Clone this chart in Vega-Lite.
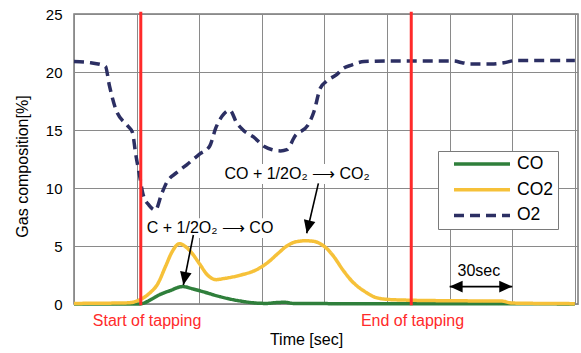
{
  "$schema": "https://vega.github.io/schema/vega-lite/v6.json",
  "width": 504,
  "height": 290,
  "autosize": {"type": "none"},
  "padding": {"left": 74, "top": 14, "right": 3, "bottom": 49},
  "background": "white",
  "config": {
    "font": "Liberation Sans",
    "view": {"stroke": "#7a7a7a", "strokeWidth": 1.5},
    "axis": {"gridColor": "#8a8a8a", "gridWidth": 1, "gridOpacity": 1, "ticks": false, "domain": false, "titleFontWeight": "normal", "titleColor": "black", "labelColor": "black", "titleFontSize": 16}
  },
  "datasets": {
    "gas": [
      {"t": 0, "gas": "CO", "v": 0}, {"t": 31, "gas": "CO", "v": 0}, {"t": 33, "gas": "CO", "v": 0.05}, {"t": 37, "gas": "CO", "v": 0.4},
      {"t": 41, "gas": "CO", "v": 0.8}, {"t": 46, "gas": "CO", "v": 1.15}, {"t": 52, "gas": "CO", "v": 1.5}, {"t": 57, "gas": "CO", "v": 1.3},
      {"t": 62, "gas": "CO", "v": 1.05}, {"t": 70, "gas": "CO", "v": 0.63}, {"t": 76, "gas": "CO", "v": 0.38}, {"t": 80, "gas": "CO", "v": 0.25},
      {"t": 86, "gas": "CO", "v": 0.1}, {"t": 92, "gas": "CO", "v": 0.05}, {"t": 97, "gas": "CO", "v": 0.12}, {"t": 101, "gas": "CO", "v": 0.15},
      {"t": 105, "gas": "CO", "v": 0.05}, {"t": 130, "gas": "CO", "v": 0.03}, {"t": 205, "gas": "CO", "v": 0.03}, {"t": 240, "gas": "CO", "v": 0},

      {"t": 0, "gas": "CO2", "v": 0.05}, {"t": 26, "gas": "CO2", "v": 0.1}, {"t": 30, "gas": "CO2", "v": 0.25}, {"t": 33, "gas": "CO2", "v": 0.5},
      {"t": 36, "gas": "CO2", "v": 0.9}, {"t": 40, "gas": "CO2", "v": 1.7}, {"t": 44, "gas": "CO2", "v": 3.3}, {"t": 47, "gas": "CO2", "v": 4.5},
      {"t": 50.5, "gas": "CO2", "v": 5.2}, {"t": 53, "gas": "CO2", "v": 5.0}, {"t": 56, "gas": "CO2", "v": 4.5}, {"t": 60, "gas": "CO2", "v": 3.5},
      {"t": 64, "gas": "CO2", "v": 2.5}, {"t": 68, "gas": "CO2", "v": 2.1}, {"t": 72, "gas": "CO2", "v": 2.2}, {"t": 80, "gas": "CO2", "v": 2.5},
      {"t": 88, "gas": "CO2", "v": 3.0}, {"t": 93, "gas": "CO2", "v": 3.6}, {"t": 98, "gas": "CO2", "v": 4.4}, {"t": 102, "gas": "CO2", "v": 5.0},
      {"t": 106, "gas": "CO2", "v": 5.35}, {"t": 111, "gas": "CO2", "v": 5.45}, {"t": 115, "gas": "CO2", "v": 5.4}, {"t": 118, "gas": "CO2", "v": 5.2},
      {"t": 121, "gas": "CO2", "v": 4.8}, {"t": 124, "gas": "CO2", "v": 4.2}, {"t": 129, "gas": "CO2", "v": 2.9}, {"t": 133, "gas": "CO2", "v": 2.0},
      {"t": 136, "gas": "CO2", "v": 1.5}, {"t": 140, "gas": "CO2", "v": 1.0}, {"t": 144, "gas": "CO2", "v": 0.6}, {"t": 150, "gas": "CO2", "v": 0.4},
      {"t": 160, "gas": "CO2", "v": 0.33}, {"t": 180, "gas": "CO2", "v": 0.28}, {"t": 205, "gas": "CO2", "v": 0.25}, {"t": 210, "gas": "CO2", "v": 0.08},
      {"t": 240, "gas": "CO2", "v": 0.03},

      {"t": 0, "gas": "O2", "v": 20.9}, {"t": 8, "gas": "O2", "v": 20.8}, {"t": 15, "gas": "O2", "v": 20.5}, {"t": 17, "gas": "O2", "v": 18.8},
      {"t": 20, "gas": "O2", "v": 16.8}, {"t": 26, "gas": "O2", "v": 15.3}, {"t": 28, "gas": "O2", "v": 14.8}, {"t": 29.5, "gas": "O2", "v": 13.0},
      {"t": 31.5, "gas": "O2", "v": 11.0}, {"t": 33, "gas": "O2", "v": 9.5}, {"t": 36, "gas": "O2", "v": 8.5}, {"t": 39, "gas": "O2", "v": 8.1},
      {"t": 42, "gas": "O2", "v": 9.5}, {"t": 44.5, "gas": "O2", "v": 10.5}, {"t": 49, "gas": "O2", "v": 11.3}, {"t": 54, "gas": "O2", "v": 12.0},
      {"t": 60, "gas": "O2", "v": 12.9}, {"t": 65, "gas": "O2", "v": 13.6}, {"t": 68, "gas": "O2", "v": 15.2}, {"t": 71, "gas": "O2", "v": 16.2},
      {"t": 74.7, "gas": "O2", "v": 16.7}, {"t": 78, "gas": "O2", "v": 15.6}, {"t": 81, "gas": "O2", "v": 15.0}, {"t": 86, "gas": "O2", "v": 14.4},
      {"t": 91, "gas": "O2", "v": 13.6}, {"t": 95, "gas": "O2", "v": 13.3}, {"t": 99, "gas": "O2", "v": 13.2}, {"t": 102, "gas": "O2", "v": 13.3},
      {"t": 106, "gas": "O2", "v": 14.5}, {"t": 112, "gas": "O2", "v": 15.4}, {"t": 115, "gas": "O2", "v": 16.6}, {"t": 118, "gas": "O2", "v": 18.6},
      {"t": 121, "gas": "O2", "v": 19.2}, {"t": 126, "gas": "O2", "v": 19.8}, {"t": 129, "gas": "O2", "v": 20.3}, {"t": 133, "gas": "O2", "v": 20.6},
      {"t": 139, "gas": "O2", "v": 20.9}, {"t": 150, "gas": "O2", "v": 20.95}, {"t": 182, "gas": "O2", "v": 20.95}, {"t": 186, "gas": "O2", "v": 20.8},
      {"t": 190, "gas": "O2", "v": 20.7}, {"t": 200, "gas": "O2", "v": 20.7}, {"t": 206, "gas": "O2", "v": 20.8}, {"t": 212, "gas": "O2", "v": 21.0},
      {"t": 240, "gas": "O2", "v": 21.0}
    ],
    "events": [
      {"t": 32, "v0": -0.1, "v1": 25.2, "label": "Start of tapping", "tl": 35, "vl": -1.47},
      {"t": 161.6, "v0": -0.1, "v1": 25.2, "label": "End of tapping", "tl": 162.2, "vl": -1.47}
    ],
    "masks": [
      {"t0": 72.8, "t1": 141.8, "v0": 10.34, "v1": 12.07},
      {"t0": 35.5, "t1": 94.9, "v0": 5.7, "v1": 7.4}
    ],
    "notes": [
      {"t": 106.9, "v": 11.2, "text": "CO + 1/2O₂ ⟶ CO₂"},
      {"t": 65.2, "v": 6.55, "text": "C + 1/2O₂ ⟶ CO"},
      {"t": 194, "v": 2.85, "text": "30sec"}
    ],
    "arrows": [
      {"t0": 57.2, "v0": 5.95, "t1": 52.4, "v1": 1.64},
      {"t0": 117.1, "v0": 10.4, "t1": 111.5, "v1": 6.1},
      {"t0": 180, "v0": 1.5, "t1": 210, "v1": 1.5}
    ]
  },
  "layer": [
    {
      "data": {"name": "masks"},
      "mark": {"type": "rect", "color": "white"},
      "encoding": {
        "x": {"field": "t0", "type": "quantitative", "scale": {"domain": [0, 241.5], "nice": false, "zero": false},
              "axis": {"values": [0, 30, 60, 90, 120, 150, 180, 210, 240], "labels": false, "title": "Time [sec]", "titleX": 232, "titleY": 35, "titleBaseline": "middle"}},
        "x2": {"field": "t1"},
        "y": {"field": "v0", "type": "quantitative", "scale": {"domain": [0, 25], "nice": false, "zero": false},
              "axis": {"values": [0, 5, 10, 15, 20, 25], "labelFontSize": 15, "labelPadding": 12, "title": "Gas composition[%]", "titleX": -52, "titleY": 152, "titleBaseline": "middle"}},
        "y2": {"field": "v1"}
      }
    },
    {
      "data": {"name": "gas"},
      "mark": {"type": "line", "interpolate": "monotone"},
      "encoding": {
        "x": {"field": "t", "type": "quantitative", "scale": {"domain": [0, 241.5], "nice": false, "zero": false}},
        "y": {"field": "v", "type": "quantitative", "scale": {"domain": [0, 25], "nice": false, "zero": false}},
        "color": {"field": "gas", "type": "nominal", "scale": {"domain": ["CO", "CO2", "O2"], "range": ["#2F7F3B", "#F6C139", "#2C2F63"]},
                  "legend": {"title": null, "orient": "none", "legendX": 364, "legendY": 137, "symbolType": "stroke", "symbolSize": 3136, "symbolStrokeWidth": 4,
                             "labelFontSize": 17.5, "labelColor": "black", "labelOffset": 5, "padding": 4.5, "symbolOffset": 9.5, "rowPadding": 7.7, "clipHeight": 17,
                             "strokeColor": "#7a7a7a", "fillColor": "white"}},
        "strokeDash": {"field": "gas", "type": "nominal", "scale": {"domain": ["CO", "CO2", "O2"], "range": [[1, 0], [1, 0], [10, 6]]},
                       "legend": {"title": null}},
        "strokeWidth": {"field": "gas", "type": "nominal", "scale": {"domain": ["CO", "CO2", "O2"], "range": [3.5, 3.5, 4.5]}, "legend": null}
      }
    },
    {
      "data": {"name": "events"},
      "mark": {"type": "rule", "color": "#FF2A2A", "strokeWidth": 3},
      "encoding": {
        "x": {"field": "t", "type": "quantitative", "scale": {"domain": [0, 241.5], "nice": false, "zero": false}},
        "y": {"field": "v0", "type": "quantitative", "scale": {"domain": [0, 25], "nice": false, "zero": false}},
        "y2": {"field": "v1"}
      }
    },
    {
      "data": {"name": "events"},
      "mark": {"type": "text", "color": "#FF2A2A", "fontSize": 16, "baseline": "middle", "align": "center"},
      "encoding": {
        "x": {"field": "tl", "type": "quantitative", "scale": {"domain": [0, 241.5], "nice": false, "zero": false}},
        "y": {"field": "vl", "type": "quantitative", "scale": {"domain": [0, 25], "nice": false, "zero": false}},
        "text": {"field": "label"}
      }
    },
    {
      "data": {"name": "arrows"},
      "mark": {"type": "rule", "color": "black", "strokeWidth": 1.6},
      "encoding": {
        "x": {"field": "t0", "type": "quantitative", "scale": {"domain": [0, 241.5], "nice": false, "zero": false}},
        "y": {"field": "v0", "type": "quantitative", "scale": {"domain": [0, 25], "nice": false, "zero": false}},
        "x2": {"field": "t1"},
        "y2": {"field": "v1"}
      }
    },
    {
      "data": {"values": [{"t": 52.4, "v": 1.64}]},
      "mark": {"type": "point", "shape": "M0,0L-0.45,-1L0.45,-1Z", "filled": true, "color": "black", "opacity": 1, "size": 676, "angle": 11, "strokeWidth": 0},
      "encoding": {
        "x": {"field": "t", "type": "quantitative", "scale": {"domain": [0, 241.5], "nice": false, "zero": false}},
        "y": {"field": "v", "type": "quantitative", "scale": {"domain": [0, 25], "nice": false, "zero": false}}
      }
    },
    {
      "data": {"values": [{"t": 111.5, "v": 6.1}]},
      "mark": {"type": "point", "shape": "M0,0L-0.45,-1L0.45,-1Z", "filled": true, "color": "black", "opacity": 1, "size": 676, "angle": 13, "strokeWidth": 0},
      "encoding": {
        "x": {"field": "t", "type": "quantitative", "scale": {"domain": [0, 241.5], "nice": false, "zero": false}},
        "y": {"field": "v", "type": "quantitative", "scale": {"domain": [0, 25], "nice": false, "zero": false}}
      }
    },
    {
      "data": {"values": [{"t": 180, "v": 1.5}]},
      "mark": {"type": "point", "shape": "M0,0L-0.45,-1L0.45,-1Z", "filled": true, "color": "black", "opacity": 1, "size": 676, "angle": 90, "strokeWidth": 0},
      "encoding": {
        "x": {"field": "t", "type": "quantitative", "scale": {"domain": [0, 241.5], "nice": false, "zero": false}},
        "y": {"field": "v", "type": "quantitative", "scale": {"domain": [0, 25], "nice": false, "zero": false}}
      }
    },
    {
      "data": {"values": [{"t": 210, "v": 1.5}]},
      "mark": {"type": "point", "shape": "M0,0L-0.45,-1L0.45,-1Z", "filled": true, "color": "black", "opacity": 1, "size": 676, "angle": 270, "strokeWidth": 0},
      "encoding": {
        "x": {"field": "t", "type": "quantitative", "scale": {"domain": [0, 241.5], "nice": false, "zero": false}},
        "y": {"field": "v", "type": "quantitative", "scale": {"domain": [0, 25], "nice": false, "zero": false}}
      }
    },
    {
      "data": {"name": "notes"},
      "mark": {"type": "text", "color": "black", "fontSize": 16, "baseline": "middle", "align": "center"},
      "encoding": {
        "x": {"field": "t", "type": "quantitative", "scale": {"domain": [0, 241.5], "nice": false, "zero": false}},
        "y": {"field": "v", "type": "quantitative", "scale": {"domain": [0, 25], "nice": false, "zero": false}},
        "text": {"field": "text"}
      }
    }
  ]
}
